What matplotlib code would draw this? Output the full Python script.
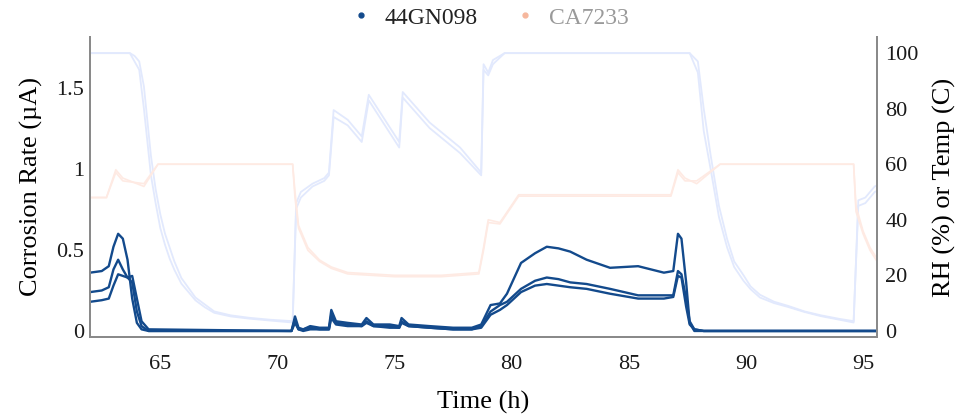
import matplotlib
matplotlib.use("Agg")
import matplotlib.pyplot as plt
from matplotlib.lines import Line2D

plt.rcParams["font.family"] = ["Liberation Serif", "DejaVu Serif"]

# --- données ---
t_cor = [62.0, 62.5, 62.8, 63.0, 63.2, 63.4, 63.6, 63.8, 64.0, 64.2, 64.5,
         70.6, 70.75, 70.9, 71.1, 71.4, 71.8, 72.2, 72.3, 72.5, 73.0, 73.6,
         73.8, 74.1, 74.8, 75.2, 75.3, 75.6, 76.5, 77.5, 78.3, 78.7, 79.1,
         79.5, 79.8, 80.4, 81.0, 81.5, 82.0, 82.5, 83.2, 84.2, 85.4, 86.5,
         86.9, 87.1, 87.25, 87.45, 87.6, 87.8, 88.2, 96.0]
cor_a = [0.36, 0.37, 0.40, 0.52, 0.60, 0.57, 0.44, 0.20, 0.05, 0.01, 0.0,
         0.0, 0.09, 0.02, 0.01, 0.03, 0.02, 0.02, 0.13, 0.06, 0.05, 0.04,
         0.08, 0.04, 0.04, 0.03, 0.08, 0.04, 0.03, 0.02, 0.02, 0.04, 0.16,
         0.17, 0.23, 0.42, 0.48, 0.52, 0.51, 0.49, 0.44, 0.39, 0.40, 0.36,
         0.37, 0.60, 0.57, 0.30, 0.05, 0.0, 0.0, 0.0]
cor_b = [0.24, 0.25, 0.27, 0.38, 0.44, 0.38, 0.33, 0.30, 0.12, 0.03, 0.0,
         0.0, 0.07, 0.01, 0.01, 0.02, 0.01, 0.01, 0.10, 0.05, 0.04, 0.03,
         0.06, 0.03, 0.03, 0.02, 0.06, 0.03, 0.02, 0.01, 0.01, 0.03, 0.12,
         0.16, 0.18, 0.26, 0.31, 0.33, 0.32, 0.30, 0.29, 0.26, 0.22, 0.22,
         0.22, 0.37, 0.35, 0.20, 0.06, 0.01, 0.0, 0.0]
cor_c = [0.18, 0.19, 0.20, 0.28, 0.35, 0.34, 0.33, 0.34, 0.20, 0.06, 0.01,
         0.0, 0.05, 0.01, 0.0, 0.01, 0.01, 0.01, 0.08, 0.04, 0.03, 0.03,
         0.05, 0.03, 0.02, 0.02, 0.05, 0.03, 0.02, 0.01, 0.01, 0.02, 0.10,
         0.13, 0.16, 0.24, 0.28, 0.29, 0.28, 0.27, 0.26, 0.23, 0.20, 0.20,
         0.21, 0.34, 0.33, 0.15, 0.04, 0.01, 0.0, 0.0]

t_rh = [62.0, 63.7, 63.9, 64.1, 64.3, 64.6, 64.8, 65.0, 65.2, 65.4, 65.6,
        65.9, 66.2, 66.5, 66.9, 67.3, 68.0, 68.8, 69.7, 70.65, 70.8, 71.0,
        71.5, 72.0, 72.2, 72.4, 73.0, 73.6, 73.9, 75.2, 75.35, 76.5, 77.8,
        78.7, 78.8, 79.0, 79.2, 79.7, 87.6, 87.95, 88.2, 88.5, 88.85, 89.2,
        89.5, 89.9, 90.2, 90.6, 91.2, 91.8, 92.5, 93.2, 94.0, 94.6, 94.8,
        95.1, 95.5, 96.0]
rh_a = [100, 100, 97, 94, 80, 56, 46, 37, 31, 26, 22,
        17, 14, 11, 8.5, 6.5, 5.2, 4.4, 3.7, 3, 46, 50,
        53, 55, 57, 79.5, 76, 70, 85, 68, 86, 75, 66,
        57, 96, 93, 97.5, 100, 100, 93, 72, 58, 41, 30,
        23, 18, 15, 12, 10, 8.6, 6.8, 5.3, 4, 3, 47,
        48, 52, 54]
rh_b = [100, 100, 99, 97, 88, 63, 51, 42, 35, 30, 25,
        19, 15.5, 12, 9.5, 7, 5.6, 4.7, 4, 3.5, 44, 48,
        52, 54, 56, 77, 74, 68, 83, 66, 84, 73, 64,
        56, 94, 92, 96, 100, 100, 97, 80, 63, 45, 33,
        25, 20, 16, 13, 10.5, 9, 7, 5.6, 4.3, 3.5, 45,
        46, 50, 52]

t_temp = [62.0, 62.7, 63.1, 63.4, 64.3, 64.9, 70.65, 70.75, 70.9, 71.3,
          71.8, 72.3, 73.0, 75.0, 77.0, 78.6, 78.8, 79.0, 79.5, 80.3, 86.8,
          87.1, 87.4, 87.9, 88.9, 94.6, 94.7, 95.0, 95.3, 95.6, 96.0]
temp_a = [48, 48, 58, 55, 52, 60, 60, 50, 38, 30,
          25.5, 23, 21, 20, 20, 21, 30, 40, 39, 49, 49,
          58, 55, 53, 60, 60, 45, 36, 30, 26, 24]
temp_b = [48, 48, 57, 54, 53, 60, 60, 48, 37, 29,
          25, 22.5, 20.5, 19.5, 19.5, 20.5, 29, 39, 38.5, 48.5, 48.5,
          57, 54, 54, 60, 60, 43, 35, 29, 25, 23]

X_TICKS = [65, 70, 75, 80, 85, 90, 95]
Y1_TICKS = [0, 0.5, 1, 1.5]
Y1_LABELS = ["0", "0.5", "1", "1.5"]
Y2_TICKS = [0, 20, 40, 60, 80, 100]

BLEU = "#134a8c"
BLEU_CLAIR = "#e2e9fd"
ROSE_CLAIR = "#feeae3"
GRIS = "#8a8a8a"

fig = plt.figure(figsize=(9.64, 4.16), dpi=100)
ax = fig.add_axes([0.0934, 0.19, 0.8164, 0.721])
ax2 = ax.twinx()
ax.set_zorder(ax2.get_zorder() + 1)
ax.patch.set_visible(False)

# humidité / température (axe droit)
ax2.plot(t_rh, rh_a, color=BLEU_CLAIR, lw=1.3)
ax2.plot(t_rh, rh_b, color=BLEU_CLAIR, lw=1.3)
ax2.plot(t_temp, temp_a, color=ROSE_CLAIR, lw=1.2)
ax2.plot(t_temp, temp_b, color=ROSE_CLAIR, lw=1.2)

# courant de corrosion (axe gauche)
for y in (cor_a, cor_b, cor_c):
    ax.plot(t_cor, y, color=BLEU, lw=1.7)

ax.set_xlim(62.0, 95.6)
ax.set_ylim(-0.037, 1.815)
ax2.set_ylim(-2.2, 105.8)

ax.set_xticks(X_TICKS)
ax.set_yticks(Y1_TICKS)
ax.set_yticklabels(Y1_LABELS)
ax2.set_yticks(Y2_TICKS)

for a in (ax, ax2):
    a.tick_params(length=0, labelsize=16, colors="#1a1a1a")
    a.spines["top"].set_visible(False)
    for s in ("left", "right", "bottom"):
        a.spines[s].set_color(GRIS)
        a.spines[s].set_linewidth(1.4)
ax.tick_params(axis="y", pad=4)
ax.tick_params(axis="x", pad=13)
ax2.tick_params(axis="y", pad=6)

ax.set_xlabel("Time (h)", fontsize=19, labelpad=12)
ax.set_ylabel("Corrosion Rate (µA)", fontsize=19, labelpad=10)
ax2.set_ylabel("RH (%) or Temp (C)", fontsize=19, labelpad=10)

handles = [
    Line2D([], [], ls="none", marker="o", ms=3.5, color=BLEU),
    Line2D([], [], ls="none", marker="o", ms=3.5, color="#f6b79d"),
]
leg = fig.legend(handles, ["44GN098", "CA7233"], loc="center",
                 bbox_to_anchor=(490 / 964, 0.957), ncol=2, frameon=False,
                 fontsize=17, handlelength=0.8, handletextpad=0.6,
                 columnspacing=1.6)
leg.get_texts()[0].set_color("#222222")
leg.get_texts()[1].set_color("#9a9a9a")

fig.savefig("out.png", dpi=100)
